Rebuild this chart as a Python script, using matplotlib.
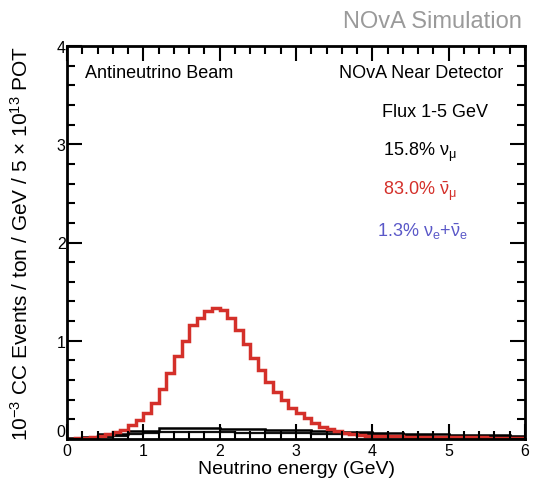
import numpy as np
import matplotlib.pyplot as plt
from matplotlib.ticker import MultipleLocator

plt.rcParams['font.family'] = ['Liberation Sans', 'DejaVu Sans']
plt.rcParams['mathtext.fontset'] = 'custom'
plt.rcParams['mathtext.rm'] = 'Liberation Sans'
plt.rcParams['mathtext.it'] = 'Liberation Sans'

# 0.1 GeV bins, 0-6 GeV
edges_fine = np.round(np.arange(0, 6.01, 0.1), 2)
antinumu = [0.00, 0.01, 0.01, 0.02, 0.03, 0.05, 0.07, 0.09, 0.14, 0.19,
            0.26, 0.37, 0.51, 0.67, 0.84, 1.00, 1.16, 1.23, 1.30, 1.33,
            1.31, 1.23, 1.11, 0.97, 0.82, 0.70, 0.58, 0.48, 0.40, 0.32,
            0.26, 0.21, 0.16, 0.12, 0.10, 0.08, 0.06, 0.05, 0.04, 0.035,
            0.030, 0.030, 0.028, 0.026, 0.025, 0.024, 0.022, 0.021, 0.020, 0.020,
            0.019, 0.018, 0.017, 0.016, 0.016, 0.015, 0.014, 0.013, 0.013, 0.012]

# 0.2 GeV bins
edges_coarse = np.round(np.arange(0, 6.01, 0.2), 2)
numu = [0.01, 0.02, 0.05, 0.05, 0.08, 0.08, 0.11, 0.11, 0.11, 0.11,
        0.10, 0.10, 0.10, 0.095, 0.09, 0.09, 0.085, 0.08, 0.075, 0.07,
        0.065, 0.06, 0.055, 0.05, 0.05, 0.045, 0.045, 0.04, 0.04, 0.035]
nue = [0.005, 0.01, 0.02, 0.03, 0.05, 0.06, 0.07, 0.07, 0.07, 0.07,
       0.07, 0.065, 0.065, 0.06, 0.06, 0.06, 0.055, 0.055, 0.05, 0.05,
       0.04, 0.035, 0.03, 0.03, 0.025, 0.025, 0.02, 0.02, 0.02, 0.02]

red = '#d4302a'
blue = '#5a58c8'

fig = plt.figure(figsize=(5.33, 4.89), dpi=100)
ax = fig.add_axes([67 / 533, 49 / 489, 458 / 533, 393 / 489])

ax.stairs(nue, edges_coarse, color='#111111', lw=1.6)
ax.stairs(numu, edges_coarse, color='black', lw=1.8)
ax.stairs(antinumu, edges_fine, color=red, lw=2.5)

ax.set_xlim(0, 6)
ax.set_ylim(0, 4)
ax.xaxis.set_major_locator(MultipleLocator(1))
ax.xaxis.set_minor_locator(MultipleLocator(0.2))
ax.yaxis.set_major_locator(MultipleLocator(1))
ax.yaxis.set_minor_locator(MultipleLocator(0.2))
ax.tick_params(which='both', direction='in', top=True, right=True, width=1.5,
               labelsize=11.5)
ax.tick_params(axis='x', pad=3)
ax.tick_params(axis='y', pad=1)
ax.tick_params(which='major', length=11)
ax.tick_params(which='minor', length=6)
for s in ax.spines.values():
    s.set_linewidth(2)

ax.set_xlabel('Neutrino energy (GeV)', fontsize=14, labelpad=1)
ax.set_ylabel(r'10$^{-3}$ CC Events / ton / GeV / 5 $\times$ 10$^{13}$ POT',
              fontsize=15, labelpad=18)

ax.text(0.24, 3.73, 'Antineutrino Beam', fontsize=13, va='center')
ax.text(5.72, 3.73, 'NOvA Near Detector', fontsize=13, va='center', ha='right')
ax.text(4.82, 3.33, 'Flux 1-5 GeV', fontsize=13, va='center', ha='center')
ax.text(4.62, 2.93, r'15.8% $\nu_{\mu}$', fontsize=13, va='center', ha='center')
ax.text(4.62, 2.53, r'83.0% $\bar{\nu}_{\mu}$', fontsize=13, va='center',
        ha='center', color=red)
ax.text(4.65, 2.12, r'1.3% $\nu_{e}$+$\bar{\nu}_{e}$', fontsize=13, va='center',
        ha='center', color=blue)

fig.text(0.98, 0.955, 'NOvA Simulation', fontsize=17, color='#9a9a9a',
         ha='right', va='center')

# ROOT style: the y "0" sits a little above the x "0"
fig.canvas.draw()
for t in ax.yaxis.get_major_ticks():
    if abs(t.get_loc()) < 1e-9:
        t.label1.set_verticalalignment('bottom')

fig.savefig('out.png', dpi=100)
